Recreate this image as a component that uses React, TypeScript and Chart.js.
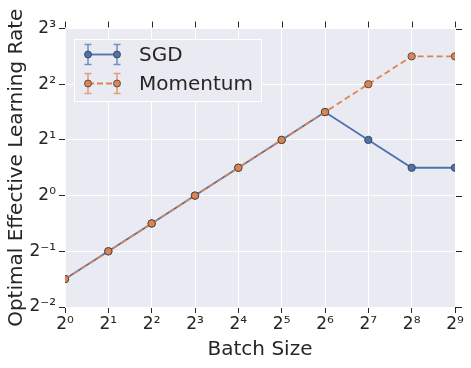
import React, { useEffect, useRef } from "react";
import { Chart, registerables } from "chart.js";

Chart.register(...registerables);

const batchSizes = [1, 2, 4, 8, 16, 32, 64, 128, 256, 512];
const sgdRates = [0.354, 0.5, 0.707, 1, 1.414, 2, 2.828, 2, 1.414, 1.414];
const momentumRates = [0.354, 0.5, 0.707, 1, 1.414, 2, 2.828, 4, 5.657, 5.657];

const xTickValues = [1, 2, 4, 8, 16, 32, 64, 128, 256, 512];
const xTickLabels = ["2⁰", "2¹", "2²", "2³", "2⁴", "2⁵", "2⁶", "2⁷", "2⁸", "2⁹"];
const yTickValues = [0.25, 0.5, 1, 2, 4, 8];
const yTickLabels = ["2⁻²", "2⁻¹", "2⁰", "2¹", "2²", "2³"];

const seriesNames = ["SGD", "Momentum"];
const seriesColors = ["#4C72B0", "#DD8452"];
const capColors = ["rgba(76,114,176,0.75)", "rgba(221,132,82,0.75)"];

const FONT = "'DejaVu Sans', sans-serif";
const TEXT = "#262626";
const TICK = "#262626";
const BG = "#EAEAF2";
const EDGE = "#3a3a3a";

const bgPlugin = {
  id: "bgPlugin",
  beforeDraw(chart: any) {
    const { ctx, chartArea: a } = chart;
    ctx.save();
    ctx.fillStyle = BG;
    ctx.fillRect(a.left, a.top, a.right - a.left, a.bottom - a.top);
    ctx.restore();
  },
};

const extraTicksPlugin = {
  id: "extraTicks",
  afterDraw(chart: any) {
    const { ctx, chartArea: a, scales } = chart;
    ctx.save();
    ctx.strokeStyle = TICK;
    ctx.lineWidth = 1;
    ctx.beginPath();
    for (const v of xTickValues) {
      const x = Math.round(scales.x.getPixelForValue(v)) + 0.5;
      ctx.moveTo(x, a.top - 1);
      ctx.lineTo(x, a.top - 7);
    }
    for (const v of yTickValues) {
      const y = Math.round(scales.y.getPixelForValue(v)) + 0.5;
      ctx.moveTo(a.right + 1, y);
      ctx.lineTo(a.right + 7, y);
    }
    ctx.stroke();
    ctx.restore();
  },
};

const legendPlugin = {
  id: "customLegend",
  afterDraw(chart: any) {
    const { ctx, chartArea: a } = chart;
    const bx = a.left + 9;
    const by = a.top + 10.5;
    const bw = 188;
    const bh = 63;
    ctx.save();
    ctx.fillStyle = BG;
    ctx.strokeStyle = "#ffffff";
    ctx.lineWidth = 1;
    ctx.fillRect(bx, by, bw, bh);
    ctx.strokeRect(bx + 0.5, by + 0.5, bw - 1, bh - 1);
    seriesNames.forEach((name, i) => {
      const cy = by + 15.5 + i * 29;
      const x1 = bx + 14;
      const x2 = bx + 43;
      ctx.strokeStyle = capColors[i];
      ctx.lineWidth = 1.6;
      ctx.setLineDash([]);
      ctx.beginPath();
      for (const x of [x1, x2]) {
        ctx.moveTo(x, cy - 10);
        ctx.lineTo(x, cy + 10);
        ctx.moveTo(x - 3.5, cy - 10);
        ctx.lineTo(x + 3.5, cy - 10);
        ctx.moveTo(x - 3.5, cy + 10);
        ctx.lineTo(x + 3.5, cy + 10);
      }
      ctx.stroke();
      ctx.strokeStyle = seriesColors[i];
      ctx.lineWidth = 1.8;
      ctx.setLineDash(i === 1 ? [6, 3] : []);
      ctx.beginPath();
      ctx.moveTo(x1, cy);
      ctx.lineTo(x2, cy);
      ctx.stroke();
      ctx.setLineDash([]);
      for (const x of [x1, x2]) {
        ctx.beginPath();
        ctx.arc(x, cy, 3.5, 0, Math.PI * 2);
        ctx.fillStyle = seriesColors[i];
        ctx.fill();
        ctx.strokeStyle = EDGE;
        ctx.lineWidth = 0.8;
        ctx.stroke();
      }
      ctx.fillStyle = TEXT;
      ctx.font = `20px ${FONT}`;
      ctx.textBaseline = "middle";
      ctx.textAlign = "left";
      ctx.fillText(name, bx + 65, cy + 1);
    });
    ctx.restore();
  },
};

export default function App() {
  const ref = useRef<HTMLCanvasElement | null>(null);

  useEffect(() => {
    if (!ref.current) return;
    const makeData = (ys: number[]) => batchSizes.map((x, i) => ({ x, y: ys[i] }));
    const chart = new Chart(ref.current, {
      type: "line",
      data: {
        datasets: [
          {
            label: seriesNames[0],
            data: makeData(sgdRates),
            borderColor: seriesColors[0],
            backgroundColor: seriesColors[0],
            borderWidth: 1.8,
            pointRadius: 3.7,
            pointBorderWidth: 0.8,
            pointBorderColor: EDGE,
            pointBackgroundColor: seriesColors[0],
            clip: 0,
            order: 2,
          } as any,
          {
            label: seriesNames[1],
            data: makeData(momentumRates),
            borderColor: seriesColors[1],
            backgroundColor: seriesColors[1],
            borderWidth: 1.8,
            borderDash: [6, 3.5],
            pointRadius: 3.7,
            pointBorderWidth: 0.8,
            pointBorderColor: EDGE,
            pointBackgroundColor: seriesColors[1],
            clip: 0,
            order: 1,
          } as any,
        ],
      },
      options: {
        animation: false,
        responsive: false,
        maintainAspectRatio: false,
        layout: { padding: { top: 28.5, right: 16, left: 0, bottom: 0 } },
        plugins: {
          legend: { display: false },
          tooltip: { enabled: false },
        },
        scales: {
          x: {
            type: "logarithmic",
            min: 1,
            max: 512,
            afterBuildTicks: (s: any) => {
              s.ticks = xTickValues.map((v) => ({ value: v }));
            },
            afterFit: (s: any) => {
              s.height = 61;
            },
            ticks: {
              callback: (v: any) => xTickLabels[xTickValues.indexOf(Number(v))] ?? "",
              font: { family: FONT, size: 17 },
              color: TEXT,
              padding: 1,
              maxRotation: 0,
              autoSkip: false,
            },
            grid: { color: "#ffffff", lineWidth: 1, tickColor: TICK, tickLength: 6 },
            border: { display: false },
            title: {
              display: true,
              text: "Batch Size",
              font: { family: FONT, size: 20 },
              color: TEXT,
              padding: { top: 0, bottom: 6 },
            },
          },
          y: {
            type: "logarithmic",
            min: 0.25,
            max: 8,
            afterBuildTicks: (s: any) => {
              s.ticks = yTickValues.map((v) => ({ value: v }));
            },
            afterFit: (s: any) => {
              s.width = 65;
            },
            ticks: {
              callback: (v: any) => yTickLabels[yTickValues.indexOf(Number(v))] ?? "",
              font: { family: FONT, size: 17 },
              color: TEXT,
              padding: 3,
              autoSkip: false,
            },
            grid: { color: "#ffffff", lineWidth: 1, tickColor: TICK, tickLength: 6 },
            border: { display: false },
            title: {
              display: true,
              text: "Optimal Effective Learning Rate",
              font: { family: FONT, size: 20 },
              color: TEXT,
              padding: { top: 5, bottom: 0 },
            },
          },
        },
      },
      plugins: [bgPlugin, extraTicksPlugin, legendPlugin],
    });
    return () => chart.destroy();
  }, []);

  return (
    <div style={{ position: "fixed", left: 0, top: 0, width: 471, height: 368, background: "#fff" }}>
      <canvas ref={ref} width={471} height={368} style={{ width: 471, height: 368, display: "block" }} />
    </div>
  );
}
